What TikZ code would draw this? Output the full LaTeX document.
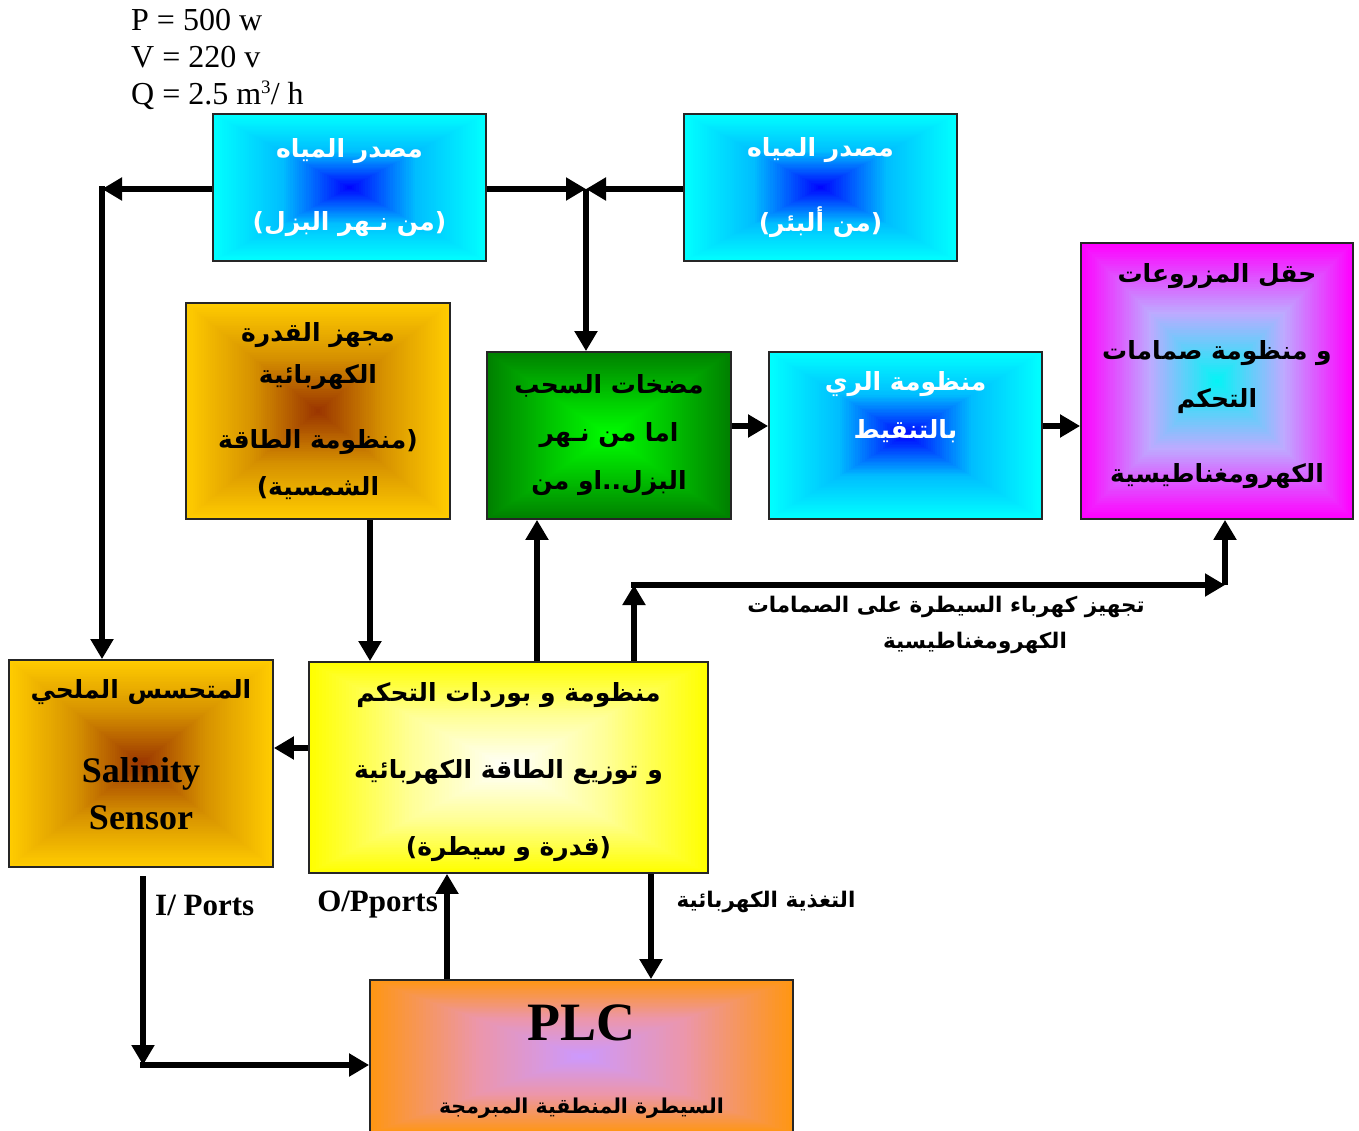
\documentclass[tikz,border=0pt]{standalone}
\usepackage{fontspec}
\setmainfont{Liberation Serif}
\newfontfamily\arabicfont[Script=Arabic]{DejaVu Sans}
\TeXXeTstate=1
\usetikzlibrary{arrows.meta,calc}
\newcommand{\artext}[1]{{\arabicfont\bfseries\beginR #1\endR}}
\definecolor{wcyan}{RGB}{0,255,255}
\definecolor{wmid}{RGB}{0,190,255}
\definecolor{wblue}{RGB}{0,0,255}
\definecolor{ggold}{RGB}{255,204,0}
\definecolor{gmid}{RGB}{214,145,0}
\definecolor{gbrown}{RGB}{153,51,0}
\definecolor{pdark}{RGB}{0,128,0}
\definecolor{pmid}{RGB}{0,195,0}
\definecolor{plight}{RGB}{0,255,0}
\definecolor{fmag}{RGB}{255,0,255}
\definecolor{fmid}{RGB}{190,170,255}
\definecolor{fcyan}{RGB}{0,245,245}
\definecolor{cyel}{RGB}{255,255,0}
\definecolor{cmid}{RGB}{255,255,150}
\definecolor{lorange}{RGB}{255,150,20}
\definecolor{lmid}{RGB}{236,150,170}
\definecolor{llav}{RGB}{204,153,255}
\tikzset{
  gshade/.style n args={3}{path picture={
    \foreach \gk in {0,...,59}{
      \pgfmathsetmacro\gt{1-\gk/60}
      \ifdim\gt pt<0.5pt
        \pgfmathsetmacro\gp{\gt*200}
        \colorlet{gcur}{#2!\gp!#3}
      \else
        \pgfmathsetmacro\gp{(\gt-0.5)*200}
        \colorlet{gcur}{#1!\gp!#2}
      \fi
      \fill[gcur] ($(path picture bounding box.center)!\gt!(path picture bounding box.north west)$)
        rectangle ($(path picture bounding box.center)!\gt!(path picture bounding box.south east)$);
    }
  }},
  box/.style={draw=black!85, line width=1.8pt, rectangle, inner sep=0pt, align=center,
    font=\fontsize{25}{30}\selectfont},
  arr/.style={line width=6pt, -{Triangle[length=20pt,width=22pt]}},
  lbl/.style={inner sep=0pt, align=center, font=\fontsize{21.5}{36}\selectfont},
  ports/.style={inner sep=0pt, font=\fontsize{31}{36}\selectfont\bfseries}
}
\begin{document}
\begin{tikzpicture}[x=1pt,y=-1pt]
\useasboundingbox (0,0) rectangle (1359,1131);

% specs
\node[anchor=north west, inner sep=0pt, align=left, font=\fontsize{32}{37}\selectfont] (spec) at (131,9)
  {P = 500 w\\V = 220 v\\Q = 2.5 m\raisebox{11pt}{\fontsize{19}{19}\selectfont 3}/ h};

% boxes
\node[box, gshade={wcyan}{wmid}{wblue}, minimum width=273pt, minimum height=147pt, text=white] (river) at (349.5,187.5)
  {\artext{مصدر المياه}\\[43pt]\artext{(من نـهر البزل)}};
\node[box, gshade={wcyan}{wmid}{wblue}, minimum width=273pt, minimum height=147pt, text=white] (well) at (820.5,187.5)
  {\artext{مصدر المياه}\\[43pt]\artext{(من ألبئر)}};
\node[box, gshade={ggold}{gmid}{gbrown}, minimum width=264pt, minimum height=216pt] (power) at (318,411)
  {\artext{مجهز القدرة}\\[12pt]\artext{الكهربائية}\\[35pt]\artext{(منظومة الطاقة}\\[17pt]\artext{الشمسية)}};
\node[box, gshade={pdark}{pmid}{plight}, minimum width=244pt, minimum height=167pt] (pumps) at (609,435.5)
  {\artext{مضخات السحب}\\[18pt]\artext{اما من نـهر}\\[18pt]\artext{البزل..او من}};
\node[box, gshade={wcyan}{wmid}{wblue}, minimum width=273pt, minimum height=167pt, text=white] (drip) at (905.5,435.5)
  {\artext{منظومة الري}\\[18pt]\artext{بالتنقيط}\\[30pt]~};
\node[box, gshade={fmag}{fmid}{fcyan}, minimum width=272pt, minimum height=276pt] (field) at (1217,381)
  {\artext{حقل المزروعات}\\[47pt]\artext{و منظومة صمامات}\\[18pt]\artext{التحكم}\\[45pt]\artext{الكهرومغناطيسية}\\[-14pt]~};
\node[box, gshade={ggold}{gmid}{gbrown}, minimum width=264pt, minimum height=207pt] (sensor) at (141,763.5)
  {\artext{المتحسس الملحي}\\[52pt]{\fontsize{36}{44}\selectfont\bfseries Salinity}\\[15pt]{\fontsize{36}{44}\selectfont\bfseries Sensor}\\[-12pt]~};
\node[box, gshade={cyel}{cmid}{white}, minimum width=399pt, minimum height=211pt] (ctrl) at (508.5,767.5)
  {\rule{0pt}{28pt}\artext{منظومة و بوردات التحكم}\\[47pt]\artext{و توزيع الطاقة الكهربائية}\\[47pt]\artext{(قدرة و سيطرة)}};
\node[box, gshade={lorange}{lmid}{llav}, minimum width=423pt, minimum height=153pt] (plc) at (581.5,1056.5)
  {\rule{0pt}{46pt}{\fontsize{54}{60}\selectfont\bfseries PLC}\\[43pt]{\fontsize{20.5}{28}\selectfont\artext{السيطرة المنطقية المبرمجة}}};

% labels
\node[lbl] (lblvalve) at (946,625) {\artext{تجهيز كهرباء السيطرة على الصمامات}\\\hspace*{58pt}\artext{الكهرومغناطيسية}};
\node[lbl] (lblfeed) at (766,902) {\artext{التغذية الكهربائية}};
\node[ports, anchor=west] (lblin) at (155,905) {I/ Ports};
\node[ports, anchor=east] (lblout) at (438,905) {O/Pports};

% helper coordinates
\coordinate (xa) at (370,0);
\coordinate (xb) at (537,0);
\coordinate (xc) at (634,0);
\coordinate (xe) at (447,0);
\coordinate (xf) at (651,0);
\coordinate (yh) at (0,426);
\coordinate (yi) at (0,748);
\coordinate (cL) at (102,189);
\coordinate (cM) at (586,189);
\coordinate (cV1) at (634,585);
\coordinate (cV2) at (1225,585);
\coordinate (cS1) at (143,876);
\coordinate (cS2) at (143,1065);

% connectors
\draw[arr] (river.west |- cL) -- (cL);
\draw[arr, line cap=rect] (cL) -- (sensor.north -| cL);
\draw[arr] (river.east |- cM) -- (cM);
\draw[arr] (well.west |- cM) -- (cM);
\draw[arr] (cM) -- (pumps.north -| cM);
\draw[arr] (power.south -| xa) -- (ctrl.north -| xa);
\draw[arr] (ctrl.north -| xb) -- (pumps.south -| xb);
\draw[arr] (ctrl.north -| xc) -- (cV1);
\draw[arr, line cap=rect] (cV1) -- (cV2);
\draw[arr] (cV2) -- (field.south -| cV2);
\draw[arr] (pumps.east |- yh) -- (drip.west |- yh);
\draw[arr] (drip.east |- yh) -- (field.west |- yh);
\draw[arr] (ctrl.west |- yi) -- (sensor.east |- yi);
\draw[arr] (cS1) -- (cS2);
\draw[arr, line cap=rect] (cS2) -- (plc.west |- cS2);
\draw[arr] (plc.north -| xe) -- (ctrl.south -| xe);
\draw[arr] (ctrl.south -| xf) -- (plc.north -| xf);
\end{tikzpicture}
\end{document}
